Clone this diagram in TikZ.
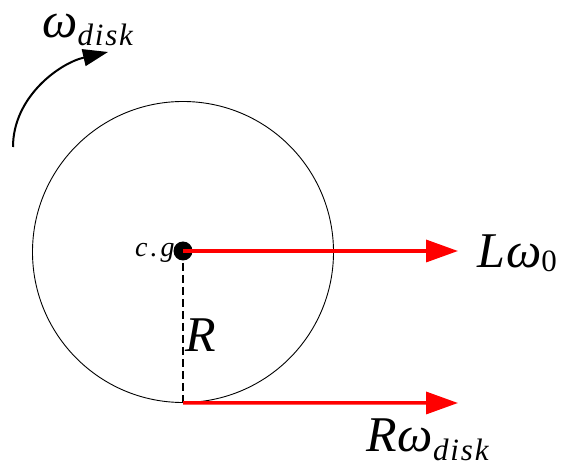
\documentclass[tikz,border=0pt]{standalone}
\usepackage{fontspec}
\setmainfont{Liberation Serif}
\usetikzlibrary{arrows.meta}
\newcommand{\bigf}{\fontsize{50}{52}\selectfont\itshape}
\newcommand{\subf}{\fontsize{31}{33}\selectfont\addfontfeature{LetterSpace=6}}
\begin{document}
\begin{tikzpicture}[x=1pt,y=1pt,
  vel/.style={draw=red,line width=3.5pt,-{Triangle[length=32pt,width=22pt]}},
  lbl/.style={inner sep=0pt,anchor=base west},
]
\useasboundingbox (0,0) rectangle (562,466);
\node[draw,circle,line width=0.9pt,minimum size=301pt,inner sep=0pt] (disk) at (183,214) {};
\coordinate (c) at (183,215);
\draw[line width=1.3pt,dash pattern=on 8pt off 4pt] (c) -- (disk.south);
\node[fill,circle,minimum size=19pt,inner sep=0pt] (cg) at (c) {};
\coordinate (t1) at (458,215);
\coordinate (t2) at (458,63);
\draw[vel] (cg.center) -- (t1);
\draw[vel] (disk.south) -- (t2);
\coordinate (a0) at (13,319);
\coordinate (a1) at (108,414);
\draw[line width=2pt,-{Triangle[length=25pt,width=17pt]}] (a0) to[out=90,in=193,looseness=0.95] (a1);
\node[lbl] (lw) at (477,198) {\bigf L\kern1ptω\raisebox{-4pt}{\upshape\subf 0}};
\node[lbl,text height=26pt] (rw) at (366,15) {\bigf R\kern1ptω\raisebox{-9pt}{\subf disk}};
\node[lbl] (r) at (185,114) {\bigf R};
\node[lbl] (cgl) at (135,209) {\fontsize{28}{30}\selectfont\itshape c\hspace{3pt}.\hspace{3pt}g};
\node[lbl,text height=24pt] (wd) at (42,428) {\bigf ω\raisebox{-8pt}{\subf disk}};
\end{tikzpicture}
\end{document}
